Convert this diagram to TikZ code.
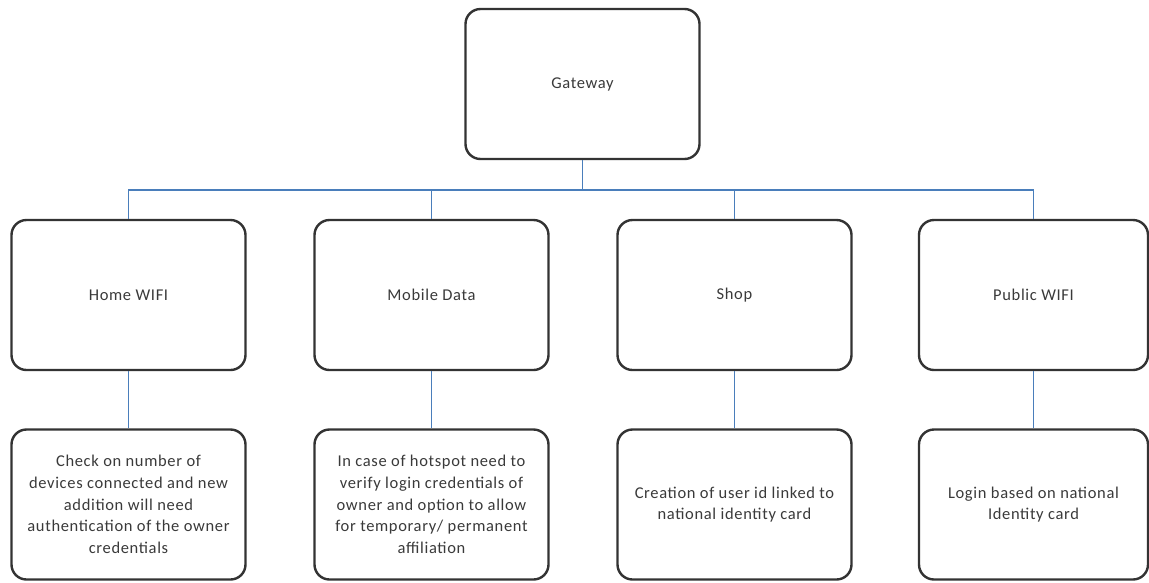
\documentclass[tikz,border=0pt]{standalone}
\usepackage{fontspec}
\setmainfont{Carlito}[LetterSpace=4]
\definecolor{linkblue}{HTML}{4A7EBB}
\definecolor{frame}{HTML}{333333}
\definecolor{ink}{HTML}{3A3A3A}
\begin{document}
\begin{tikzpicture}[x=1pt,y=-1pt,
  box/.style={draw=frame,line width=2.4pt,rounded corners=15pt,fill=white,
    minimum width=234pt,minimum height=150pt,align=center,text=ink,
    font=\fontsize{16.5}{21.7}\selectfont,inner sep=0pt},
  link/.style={draw=linkblue,line width=1.7pt}]
\useasboundingbox (0,0) rectangle (1149,582);

% top level
\node[box] (gw) at (582.5,84) {Gateway};

% access channels
\node[box] (home) at (128.5,295) {Home WIFI};
\node[box] (mob)  at (431.5,295)  {Mobile Data};
\node[box] (shop) at (734.5,295) {Shop};
\node[box,minimum width=229pt] (pub) at (1033.5,295) {Public WIFI};

% authentication rules
\node[box] (homeD) at (128.5,504.5) {Check on number of\\devices connected and new\\addition will need\\authentication of the owner\\credentials};
\node[box] (mobD)  at (431.5,504.5) {In case of hotspot need to\\verify login credentials of\\owner and option to allow\\for temporary/ permanent\\affiliation};
\node[box] (shopD) at (734.5,504.5) {Creation of user id linked to\\national identity card};
\node[box,minimum width=229pt] (pubD) at (1033.5,504.5) {Login based on national\\Identity card};

% bus between the gateway and the channels
\coordinate (bus) at (0,190);
\draw[link] (gw.south) -- (gw.south |- bus);
\draw[link] (home.north) -- (home.north |- bus) -- (pub.north |- bus) -- (pub.north);
\draw[link] (mob.north) -- (mob.north |- bus);
\draw[link] (shop.north) -- (shop.north |- bus);

% channel to rule
\draw[link] (home.south) -- (homeD.north);
\draw[link] (mob.south) -- (mobD.north);
\draw[link] (shop.south) -- (shopD.north);
\draw[link] (pub.south) -- (pubD.north);
\end{tikzpicture}
\end{document}
